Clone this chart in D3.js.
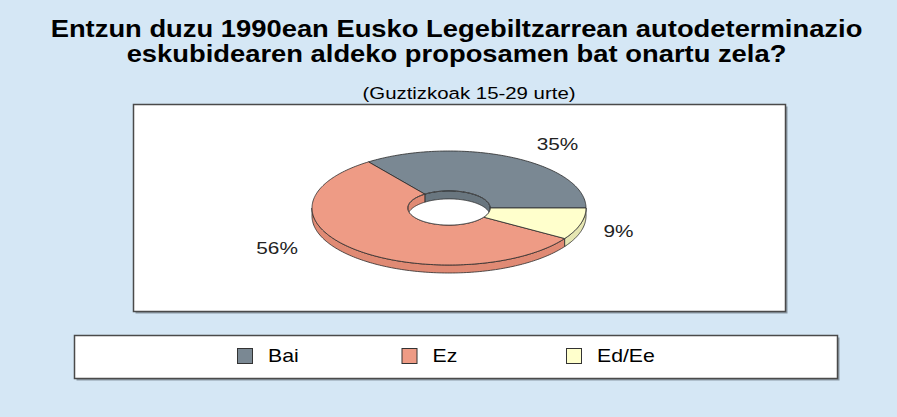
<!DOCTYPE html>
<html>
<head>
<meta charset="utf-8">
<script src="https://cdn.jsdelivr.net/npm/d3@7"></script>
<style>
  html, body { margin: 0; padding: 0; background: #d5e7f5; }
  svg { display: block; font-family: "Liberation Sans", Arial, sans-serif; }
</style>
</head>
<body>
<svg id="chart" width="897" height="417"></svg>
<script>
// Survey answers (percent)
const categories = ["Bai", "Ez", "Ed/Ee"];
const values = [35, 56, 9];
const valueLabels = ["35%", "56%", "9%"];

const titleLines = [
  "Entzun duzu 1990ean Eusko Legebiltzarrean autodeterminazio",
  "eskubidearen aldeko proposamen bat onartu zela?"
];
const subtitle = "(Guztizkoak 15-29 urte)";

const topColors  = ["#7a8893", "#ee9b85", "#ffffcc"];
const sideColors = ["#69767f", "#e08a74", "#e6e6b2"];

// label placement in ellipse units (horizontal, vertical) per slice
const labelFactor = [[1.745, 1.26], [1.833, 0.963], [1.289, 1.45]];

const svg = d3.select("#chart");
const W = 897, H = 417;
const SX = 1.19; // horizontal text widening used throughout the layout

svg.append("rect").attr("width", W).attr("height", H).attr("fill", "#d5e7f5");

// text helper: places text at (x,y) and widens it horizontally around its anchor
function label(parent, x, y, txt, opts) {
  return parent.append("text")
    .attr("transform", `translate(${x},${y}) scale(${opts.sx || SX},1)`)
    .attr("text-anchor", opts.anchor || "middle")
    .attr("font-size", opts.size)
    .attr("font-weight", opts.weight || "normal")
    .attr("fill", opts.fill || "#000")
    .text(txt);
}

// Title
titleLines.forEach((t, i) => label(svg, 456.5, 36.5 + i * 25, t, { size: 23, weight: "bold" }));
label(svg, 469, 98.5, subtitle, { size: 17, sx: 1.2 });

// Plot frame with shadow
function frame(x, y, w, h) {
  svg.append("rect").attr("x", x + 2).attr("y", y + 2).attr("width", w).attr("height", h)
    .attr("fill", "#8c9aa5");
  svg.append("rect").attr("x", x).attr("y", y).attr("width", w).attr("height", h)
    .attr("fill", "#fff").attr("stroke", "#4a4a4a").attr("stroke-width", 1.5);
}
frame(133.5, 104.5, 652, 207);
frame(74.5, 335.5, 763, 43);

// 3D doughnut geometry
const cx = 449, cy = 208, rx = 137, ry = 57, depth = 8, holeK = 0.30;

const pie = d3.pie().sort(null).value(d => d)
  .startAngle(Math.PI / 2).endAngle(Math.PI / 2 - 2 * Math.PI);
const arcs = pie(values);

const pt = (a, k, dy = 0) => [cx + rx * k * Math.sin(a), cy - ry * k * Math.cos(a) + dy];

function arcPts(a0, a1, k, dy = 0) {
  const n = Math.max(2, Math.ceil(Math.abs(a1 - a0) / 0.02));
  return d3.range(n + 1).map(i => pt(a0 + (a1 - a0) * i / n, k, dy));
}

// intersect [lo,hi] with visible angle windows (center c, half-width PI/2)
function windows(lo, hi, centre) {
  const out = [];
  for (let m = -3; m <= 3; m++) {
    const wl = centre - Math.PI / 2 + m * 2 * Math.PI, wh = centre + Math.PI / 2 + m * 2 * Math.PI;
    const l = Math.max(lo, wl), h = Math.min(hi, wh);
    if (h > l + 1e-6) out.push([l, h]);
  }
  return out;
}

const line = d3.line();
const g = svg.append("g");
const strokeC = "#2b2b2b", strokeW = 0.8;

// outer front walls
arcs.forEach((d, i) => {
  const lo = Math.min(d.startAngle, d.endAngle), hi = Math.max(d.startAngle, d.endAngle);
  windows(lo, hi, Math.PI).forEach(([l, h]) => {
    const p = arcPts(l, h, 1).concat(arcPts(h, l, 1, depth));
    g.append("path").attr("d", line(p) + "Z")
      .attr("fill", sideColors[i]).attr("stroke", strokeC).attr("stroke-width", strokeW)
      .attr("stroke-linejoin", "round");
  });
});

// top faces
arcs.forEach((d, i) => {
  const p = arcPts(d.startAngle, d.endAngle, 1).concat(arcPts(d.endAngle, d.startAngle, holeK));
  g.append("path").attr("d", line(p) + "Z")
    .attr("fill", topColors[i]).attr("stroke", strokeC).attr("stroke-width", strokeW)
    .attr("stroke-linejoin", "round");
});

// hole: see-through background, then the back inner wall
const holePts = arcPts(0, 2 * Math.PI, holeK);
svg.append("clipPath").attr("id", "hole").append("path").attr("d", line(holePts) + "Z");
g.append("path").attr("d", line(holePts) + "Z").attr("fill", "#fff");
const hg = g.append("g").attr("clip-path", "url(#hole)");
arcs.forEach((d, i) => {
  const lo = Math.min(d.startAngle, d.endAngle), hi = Math.max(d.startAngle, d.endAngle);
  windows(lo, hi, 0).forEach(([l, h]) => {
    const p = arcPts(l, h, holeK).concat(arcPts(h, l, holeK, depth));
    hg.append("path").attr("d", line(p) + "Z")
      .attr("fill", sideColors[i]).attr("stroke", strokeC).attr("stroke-width", strokeW);
  });
});
g.append("path").attr("d", line(holePts) + "Z").attr("fill", "none")
  .attr("stroke", strokeC).attr("stroke-width", strokeW);

// value labels
arcs.forEach((d, i) => {
  const a = (d.startAngle + d.endAngle) / 2;
  const [fx, fy] = labelFactor[i];
  const x = cx + rx * fx * Math.sin(a);
  const y = cy - ry * fy * Math.cos(a);
  label(svg, x, y + 6, valueLabels[i], { size: 16, fill: "#222", sx: 1.3 });
});

// legend
const legendX = d3.scalePoint().domain(categories).range([237, 566]);
const lg = svg.append("g").selectAll("g").data(categories).join("g")
  .attr("transform", d => `translate(${legendX(d)},348)`);
lg.append("rect").attr("x", 0.5).attr("y", 0.5).attr("width", 15).attr("height", 15)
  .attr("fill", (d, i) => topColors[i]).attr("stroke", "#333").attr("stroke-width", 1);
lg.each(function (d) { label(d3.select(this), 31, 14, d, { size: 18, anchor: "start", sx: 1.18 }); });
</script>
</body>
</html>
